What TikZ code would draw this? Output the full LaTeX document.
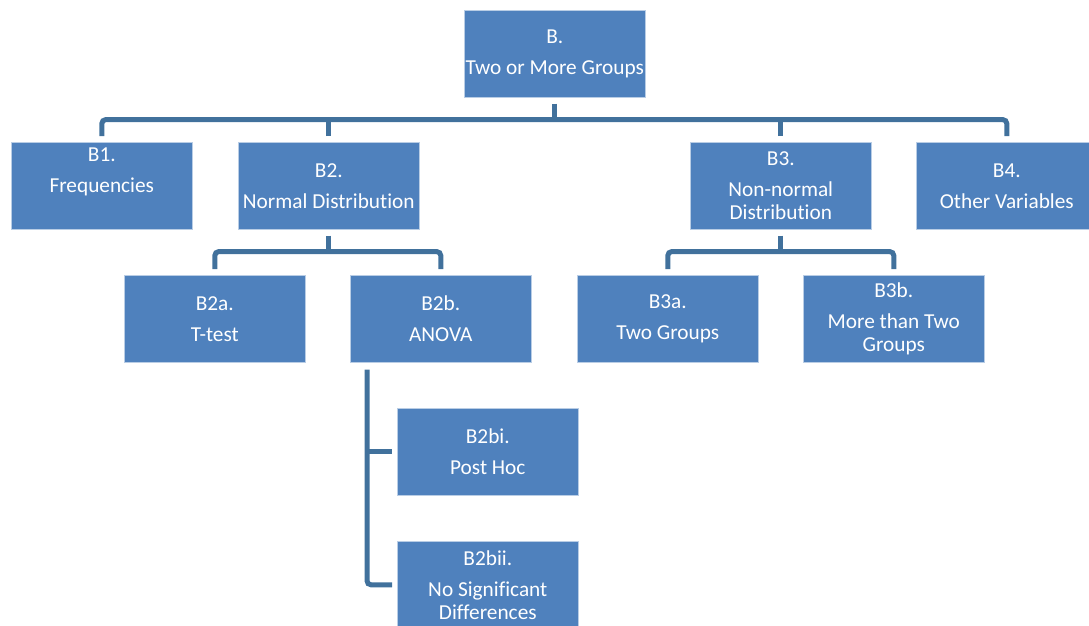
\documentclass[tikz,border=0pt]{standalone}
\usepackage{fontspec}
\setmainfont{Carlito}[RawFeature={-liga}]
\usetikzlibrary{calc}
\definecolor{boxblue}{HTML}{4F81BD}
\definecolor{linkblue}{HTML}{41719C}
\tikzset{
  box/.style={rectangle, fill=boxblue, draw=white!60!boxblue, line width=0.6pt,
    minimum width=181pt, minimum height=87pt, inner sep=0pt, anchor=north west,
    text=white, align=center, font=\fontsize{21.3}{23}\selectfont},
  conn/.style={draw=linkblue, line width=5pt, rounded corners=4pt}
}
\newcommand{\pgap}{\\[8pt]}
\begin{document}
\begin{tikzpicture}[x=1pt,y=-1pt]
\useasboundingbox (0,0) rectangle (1089,626);
\clip (0,0) rectangle (1089,626);
\node[box] (B) at (464,10) {B.\pgap Two or More Groups};
\node[box] (B1) at (11,142) {B1.\pgap Frequencies\pgap\mbox{}};
\node[box] (B2) at (238,142) {B2.\pgap Normal Distribution};
\node[box] (B3) at (690,142) {B3.\pgap Non-normal\\Distribution};
\node[box] (B4) at (916,142) {B4.\pgap Other Variables};
\node[box] (B2a) at (124,275) {B2a.\pgap T-test};
\node[box] (B2b) at (350,275) {B2b.\pgap ANOVA};
\node[box] (B3a) at (577,275) {B3a.\pgap Two Groups};
\node[box] (B3b) at (803,275) {B3b.\pgap More than Two\\Groups};
\node[box] (B2bi) at (397,408) {B2bi.\pgap Post Hoc};
\node[box] (B2bii) at (397,541) {B2bii.\pgap No Significant\\Differences};
% top level
\coordinate (bus) at ($(B.south)+(0,22)$);
\draw[conn, shorten <=6pt, shorten >=6pt] (B1.north) |- (bus) -| (B4.north);
\draw[conn, shorten <=6pt] (B.south) -- (B.south |- bus);
\draw[conn, shorten <=6pt] (B2.north) -- (B2.north |- bus);
\draw[conn, shorten <=6pt] (B3.north) -- (B3.north |- bus);
% B2 children
\coordinate (busb2) at ($(B2.south)+(0,22)$);
\draw[conn, shorten <=6pt, shorten >=6pt] (B2a.north) |- (busb2) -| (B2b.north);
\draw[conn, shorten <=6pt] (B2.south) -- (busb2);
% B3 children
\coordinate (busb3) at ($(B3.south)+(0,22)$);
\draw[conn, shorten <=6pt, shorten >=6pt] (B3a.north) |- (busb3) -| (B3b.north);
\draw[conn, shorten <=6pt] (B3.south) -- (busb3);
% B2b children
\coordinate (tb) at ($(B2b.south west)+(17,7)$);
\draw[conn, shorten >=5pt] (tb) |- (B2bii.west);
\draw[conn, shorten >=5pt] (tb |- B2bi.west) -- (B2bi.west);
\end{tikzpicture}
\end{document}
